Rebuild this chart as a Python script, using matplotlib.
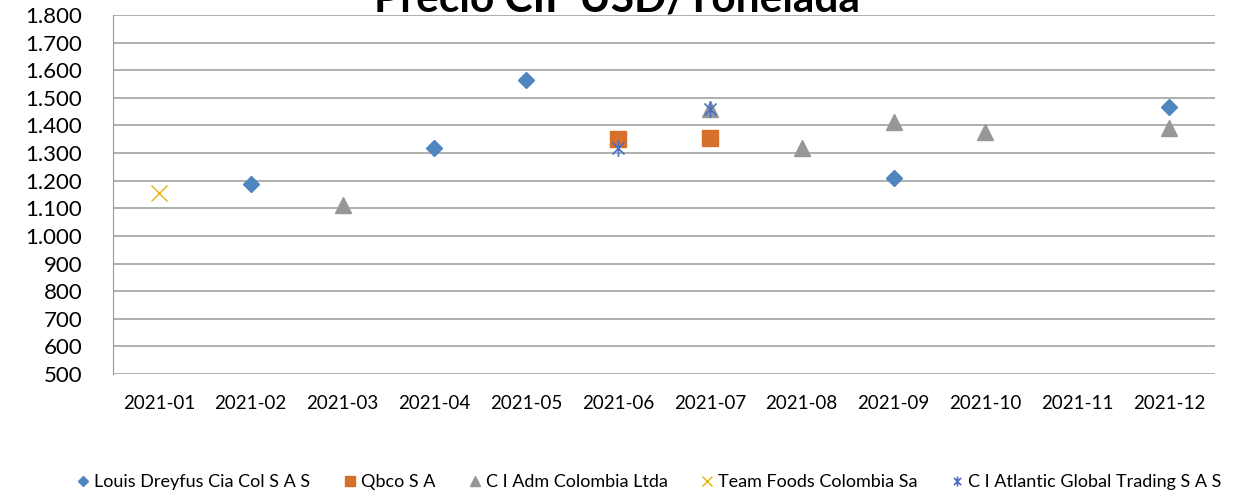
import matplotlib.pyplot as plt
import numpy as np
from matplotlib.path import Path

plt.rcParams['font.family'] = ['Lato', 'DejaVu Sans']

meses = ["2021-01", "2021-02", "2021-03", "2021-04", "2021-05", "2021-06",
         "2021-07", "2021-08", "2021-09", "2021-10", "2021-11", "2021-12"]

# Louis Dreyfus Cia Col S A S
louis_mes = ["2021-02", "2021-04", "2021-05", "2021-09", "2021-12"]
louis_val = [1188, 1318, 1565, 1210, 1467]
# Qbco S A
qbco_mes = ["2021-06", "2021-07"]
qbco_val = [1351, 1355]
# C I Adm Colombia Ltda
adm_mes = ["2021-03", "2021-07", "2021-08", "2021-09", "2021-10", "2021-12"]
adm_val = [1112, 1460, 1318, 1412, 1376, 1390]
# Team Foods Colombia Sa
team_mes = ["2021-01"]
team_val = [1155]
# C I Atlantic Global Trading S A S
atl_mes = ["2021-06", "2021-07"]
atl_val = [1318, 1460]

# asterisco estilo excel: linea vertical + X
star = Path([(0, -1), (0, 1), (-0.72, -0.72), (0.72, 0.72), (-0.72, 0.72), (0.72, -0.72)],
            [Path.MOVETO, Path.LINETO, Path.MOVETO, Path.LINETO, Path.MOVETO, Path.LINETO])

fig = plt.figure(figsize=(12.41, 4.97), dpi=100)
ax = fig.add_axes([0.091, 0.2475, 0.888, 0.7225])

def pos(lst):
    return [meses.index(m) for m in lst]

ax.plot(pos(louis_mes), louis_val, ls="none", marker="D", ms=8.5, color="#4F86C0",
        label="Louis Dreyfus Cia Col S A S")
ax.plot(pos(qbco_mes), qbco_val, ls="none", marker="s", ms=11, color="#D6702C",
        label="Qbco S A")
ax.plot(pos(adm_mes), adm_val, ls="none", marker="^", ms=12, color="#979797",
        label="C I Adm Colombia Ltda")
ax.plot(pos(team_mes), team_val, ls="none", marker="x", ms=11, mew=1.0, color="#E8B10C",
        label="Team Foods Colombia Sa")
ax.plot(pos(atl_mes), atl_val, ls="none", marker=star, ms=12, mew=1.2, color="#4A6FC2",
        label="C I Atlantic Global Trading S A S")

ax.set_xlim(-0.5, 11.5)
ax.set_ylim(500, 1800)
ax.set_xticks(range(len(meses)))
ax.set_xticklabels(meses, fontsize=13.5)
ticks = np.arange(500, 1801, 100)
ax.set_yticks(ticks)
ax.set_yticklabels([f"{t:,}".replace(",", ".") for t in ticks], fontsize=16)
ax.tick_params(axis="both", length=0)
ax.tick_params(axis="x", pad=15)
ax.tick_params(axis="y", pad=22)
ax.grid(axis="y", color="#9a9a9a", lw=1.1)
ax.set_axisbelow(True)
for s in ["top", "right", "bottom"]:
    ax.spines[s].set_visible(False)
ax.spines["left"].set_color("#9a9a9a")

fig.text(0.497, 1 - 12 / 497, "Precio CIF USD/Tonelada", fontsize=30.5, fontweight="bold",
         ha="center", va="baseline")

leg = fig.legend(loc="center", bbox_to_anchor=(0.522, 0.03), ncol=5, frameon=False,
                 fontsize=13, markerscale=0.6, handletextpad=0.1, columnspacing=1.7,
                 handlelength=1.0)

fig.savefig("out.png", dpi=100)
